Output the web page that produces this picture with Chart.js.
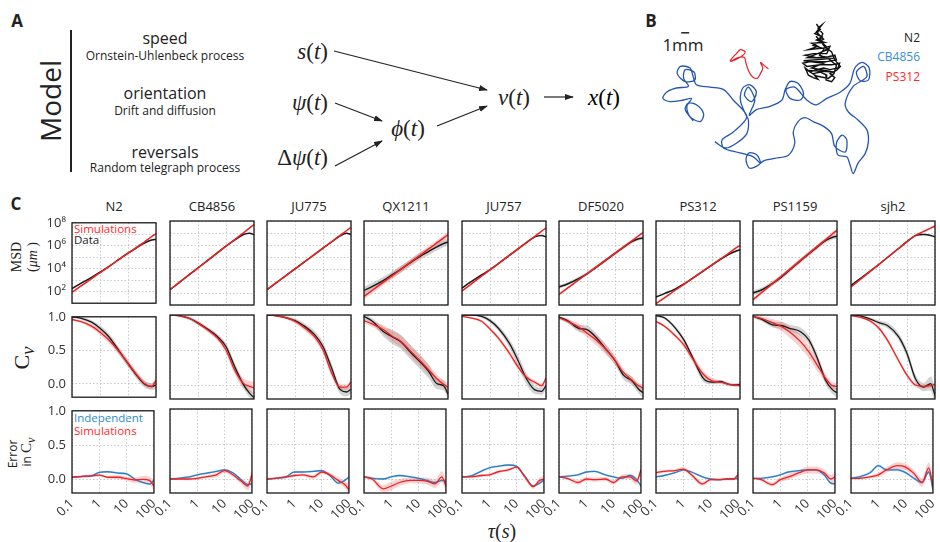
<!DOCTYPE html>
<html>
<head>
<meta charset="utf-8">
<script src="https://cdn.jsdelivr.net/npm/chart.js@4.4.0/dist/chart.umd.min.js"></script>
<style>
body { margin: 0; background: #fff; }
#fig { position: relative; width: 940px; height: 542px; overflow: hidden; font-family: 'Open Sans', sans-serif; color: #222; }
.t { position: absolute; white-space: nowrap; line-height: 1; transform: translate(-50%, -50%); }
.l { transform: translate(0, -50%); }
.rt { transform: translate(-100%, -50%); }
.rot { transform: translate(-50%, -50%) rotate(-90deg); }
.m { font-family: 'Liberation Serif', serif; }
.panel { font-weight: bold; font-size: 17px; }
canvas { position: absolute; }
</style>
</head>
<body>
<div id="fig">
  <!-- A: model diagram -->
  <div class="t panel" style="left:17px;top:20px">A</div>
  <div class="t rot" style="left:50px;top:101px;font-size:28px">Model</div>
  <div style="position:absolute;left:70px;top:30px;width:1.5px;height:142px;background:#222"></div>
  <div class="t" style="left:165px;top:38px;font-size:16px">speed</div>
  <div class="t" style="left:165px;top:56px;font-size:12px">Ornstein-Uhlenbeck process</div>
  <div class="t" style="left:165px;top:93px;font-size:16px">orientation</div>
  <div class="t" style="left:165px;top:111px;font-size:12px">Drift and diffusion</div>
  <div class="t" style="left:165px;top:152px;font-size:16px">reversals</div>
  <div class="t" style="left:165px;top:168px;font-size:12px">Random telegraph process</div>
  <div class="t rt m" style="left:328px;top:51px;font-size:23px"><i>s</i>(<i>t</i>)</div>
  <div class="t rt m" style="left:328px;top:102px;font-size:23px"><i>ψ</i>(<i>t</i>)</div>
  <div class="t rt m" style="left:328px;top:157px;font-size:23px">Δ<i>ψ</i>(<i>t</i>)</div>
  <div class="t m" style="left:408px;top:128px;font-size:23px"><i>ϕ</i>(<i>t</i>)</div>
  <div class="t m" style="left:514px;top:97px;font-size:23px"><i>v</i>(<i>t</i>)</div>
  <div class="t m" style="left:604px;top:97px;font-size:23px;color:#000"><i>x</i>(<i>t</i>)</div>
  <svg style="position:absolute;left:0;top:0" width="940" height="200">
    <defs>
      <marker id="head" markerWidth="9" markerHeight="8" refX="8" refY="4" orient="auto" markerUnits="userSpaceOnUse">
        <path d="M0,1 L9,4 L0,7 z" fill="#222"/>
      </marker>
    </defs>
    <g stroke="#222" stroke-width="1.2" marker-end="url(#head)">
      <line x1="334" y1="51" x2="487" y2="90"/>
      <line x1="335" y1="103" x2="382" y2="121"/>
      <line x1="335" y1="166" x2="382" y2="141"/>
      <line x1="437" y1="126" x2="487" y2="106"/>
      <line x1="544" y1="97" x2="573" y2="97"/>
    </g>
  </svg>

  <!-- B: example tracks -->
  <div class="t panel" style="left:651px;top:20px">B</div>
  <div class="t" style="left:683px;top:44px;font-size:17px">1mm</div>
  <div class="t rt" style="left:920px;top:38px;font-size:12px;color:#222">N2</div>
  <div class="t rt" style="left:920px;top:57px;font-size:12px;color:#3a8fd6">CB4856</div>
  <div class="t rt" style="left:920px;top:77px;font-size:12px;color:#ff2a2a">PS312</div>

  <!-- C: statistics grid -->
  <div class="t panel" style="left:16px;top:203px">C</div>
  <div class="t rot m" style="left:17px;top:257px;font-size:14px">MSD</div>
  <div class="t rot m" style="left:33px;top:257px;font-size:14px">(<i>μm</i>&nbsp;)</div>
  <div class="t rot m" style="left:24px;top:358px;font-size:22px">C<sub><i>v</i></sub></div>
  <div class="t rot" style="left:13px;top:454px;font-size:12px">Error</div>
  <div class="t rot" style="left:28px;top:452px;font-size:12px">in <span class="m" style="font-size:15px">C<sub><i>v</i></sub></span></div>
  <div class="t m" style="left:502px;top:531px;font-size:20px"><i>τ</i>(<i>s</i>)</div>
  <div class="t l" style="left:74px;top:229px;font-size:11.5px;color:#ff2a2a">Simulations</div>
  <div class="t l" style="left:74px;top:240px;font-size:11.5px;color:#222">Data</div>
  <div class="t l" style="left:74px;top:418px;font-size:11.5px;color:#2a8ad4">Independent</div>
  <div class="t l" style="left:74px;top:431px;font-size:11.5px;color:#ff2a2a">Simulations</div>
</div>

<script>
// lag times shared by every curve in panel C
const tau = [0.1, 0.2, 0.5, 1, 2, 5, 10, 20, 40, 70, 100];
const strains = ['N2', 'CB4856', 'JU775', 'QX1211', 'JU757', 'DF5020', 'PS312', 'PS1159', 'sjh2'];

const xTickValues = [0.1, 1, 10, 100];
const xTickLabels = ['0.1', '1', '10', '100'];
const msdTickValues = [1e1, 1e2, 1e3, 1e4, 1e5, 1e6, 1e7, 1e8];
const msdTickLabels = ['', '10²', '', '10⁴', '', '10⁶', '', '10⁸'];
const cvTickValues = [0, 0.5, 1];
const cvTickLabels = ['0.0', '0.5', '1.0'];

// log10 of MSD, one row per strain
const msdData = [
  [2.28, 2.70, 3.25, 3.70, 4.17, 4.85, 5.35, 5.82, 6.25, 6.50, 6.55],
  [2.28, 2.82, 3.55, 4.09, 4.63, 5.36, 5.90, 6.40, 6.85, 6.98, 6.86],
  [2.28, 2.80, 3.49, 4.01, 4.53, 5.22, 5.74, 6.25, 6.75, 6.98, 6.88],
  [2.22, 2.55, 3.05, 3.50, 3.95, 4.60, 5.05, 5.45, 5.85, 6.12, 6.25],
  [2.42, 2.90, 3.50, 3.95, 4.45, 5.15, 5.67, 6.20, 6.68, 6.80, 6.67],
  [2.50, 2.75, 3.20, 3.60, 4.10, 4.78, 5.30, 5.80, 6.28, 6.52, 6.58],
  [1.67, 1.95, 2.35, 2.75, 3.22, 3.85, 4.33, 4.80, 5.22, 5.48, 5.61],
  [2.00, 2.25, 2.80, 3.30, 3.90, 4.70, 5.28, 5.85, 6.38, 6.65, 6.72],
  [2.64, 3.15, 3.85, 4.39, 4.96, 5.71, 6.28, 6.78, 6.88, 6.80, 6.67]
];
const msdSim = [
  [1.95, 2.46, 3.14, 3.65, 4.16, 4.84, 5.35, 5.86, 6.37, 6.80, 7.05],
  [2.28, 2.82, 3.55, 4.09, 4.63, 5.36, 5.90, 6.44, 6.98, 7.43, 7.70],
  [2.28, 2.80, 3.49, 4.01, 4.53, 5.22, 5.74, 6.26, 6.78, 7.21, 7.47],
  [1.72, 2.23, 2.92, 3.43, 3.94, 4.63, 5.14, 5.65, 6.17, 6.59, 6.86],
  [2.17, 2.70, 3.40, 3.92, 4.45, 5.15, 5.67, 6.20, 6.72, 7.16, 7.42],
  [1.89, 2.40, 3.09, 3.60, 4.12, 4.80, 5.31, 5.83, 6.34, 6.77, 7.03],
  [1.11, 1.60, 2.25, 2.73, 3.22, 3.87, 4.35, 4.84, 5.32, 5.73, 5.97],
  [1.44, 2.02, 2.79, 3.37, 3.95, 4.72, 5.30, 5.88, 6.46, 6.94, 7.22],
  [2.50, 3.07, 3.82, 4.39, 4.96, 5.71, 6.28, 6.80, 7.13, 7.40, 7.58]
];
// half width of the shaded bands, log10 units
const msdDataSpread = [0.07, 0.06, 0.06, 0.30, 0.06, 0.15, 0.08, 0.20, 0.05];
const msdSimSpread = [0.05, 0.05, 0.05, 0.25, 0.04, 0.08, 0.06, 0.15, 0.04];

// velocity autocorrelation
const cvData = [
  [1.00, 0.98, 0.92, 0.83, 0.71, 0.48, 0.30, 0.13, -0.01, -0.04, -0.02],
  [1.00, 0.99, 0.95, 0.89, 0.81, 0.69, 0.55, 0.27, 0.02, -0.12, -0.18],
  [1.00, 0.99, 0.96, 0.92, 0.85, 0.72, 0.55, 0.25, -0.06, -0.10, -0.06],
  [0.98, 0.91, 0.76, 0.69, 0.62, 0.45, 0.33, 0.20, 0.02, -0.01, -0.13],
  [1.00, 1.00, 0.98, 0.92, 0.81, 0.59, 0.35, 0.09, -0.07, -0.09, -0.01],
  [0.97, 0.92, 0.81, 0.79, 0.69, 0.50, 0.35, 0.14, 0.06, -0.06, -0.11],
  [0.99, 0.96, 0.81, 0.64, 0.40, 0.09, 0.04, 0.05, 0.01, 0.00, 0.01],
  [0.98, 0.94, 0.86, 0.85, 0.81, 0.76, 0.64, 0.38, 0.06, -0.07, -0.11],
  [1.00, 0.99, 0.94, 0.89, 0.85, 0.69, 0.45, 0.09, -0.03, 0.02, -0.15]
];
const cvSim = [
  [0.96, 0.93, 0.86, 0.77, 0.66, 0.47, 0.31, 0.14, 0.00, -0.04, 0.05],
  [1.00, 0.99, 0.95, 0.88, 0.80, 0.67, 0.50, 0.22, 0.03, -0.02, -0.04],
  [1.00, 0.99, 0.96, 0.91, 0.83, 0.69, 0.50, 0.18, -0.03, -0.03, 0.04],
  [0.92, 0.87, 0.79, 0.70, 0.63, 0.47, 0.35, 0.22, 0.09, 0.01, -0.03],
  [0.98, 0.96, 0.91, 0.80, 0.67, 0.45, 0.26, 0.11, 0.04, -0.01, 0.10],
  [0.96, 0.91, 0.83, 0.74, 0.65, 0.50, 0.35, 0.18, 0.07, -0.01, -0.04],
  [0.91, 0.84, 0.70, 0.57, 0.38, 0.15, 0.06, 0.04, 0.01, 0.00, -0.01],
  [0.98, 0.95, 0.89, 0.84, 0.76, 0.62, 0.47, 0.28, 0.09, -0.01, -0.02],
  [0.99, 0.97, 0.91, 0.81, 0.64, 0.35, 0.14, 0.00, -0.02, -0.01, 0.01]
];
const cvDataSpread = [
  [0.02, 0.02, 0.03, 0.04, 0.05, 0.05, 0.05, 0.05, 0.05, 0.05, 0.06],
  [0.01, 0.01, 0.02, 0.03, 0.03, 0.04, 0.05, 0.06, 0.06, 0.06, 0.06],
  [0.01, 0.01, 0.02, 0.03, 0.04, 0.05, 0.06, 0.06, 0.06, 0.06, 0.06],
  [0.03, 0.04, 0.07, 0.10, 0.10, 0.10, 0.10, 0.10, 0.08, 0.07, 0.08],
  [0.01, 0.01, 0.02, 0.03, 0.04, 0.06, 0.08, 0.08, 0.06, 0.05, 0.05],
  [0.02, 0.03, 0.05, 0.06, 0.06, 0.06, 0.06, 0.06, 0.06, 0.06, 0.07],
  [0.02, 0.02, 0.03, 0.04, 0.05, 0.05, 0.03, 0.02, 0.02, 0.02, 0.03],
  [0.02, 0.03, 0.04, 0.05, 0.05, 0.06, 0.06, 0.06, 0.06, 0.06, 0.07],
  [0.01, 0.01, 0.02, 0.03, 0.04, 0.05, 0.06, 0.06, 0.06, 0.10, 0.12]
];
const cvSimSpread = [
  [0.02, 0.02, 0.03, 0.04, 0.05, 0.05, 0.05, 0.05, 0.04, 0.04, 0.05],
  [0.01, 0.01, 0.02, 0.02, 0.03, 0.04, 0.05, 0.06, 0.07, 0.08, 0.08],
  [0.01, 0.01, 0.02, 0.03, 0.04, 0.05, 0.05, 0.05, 0.04, 0.04, 0.05],
  [0.03, 0.04, 0.06, 0.08, 0.08, 0.08, 0.08, 0.07, 0.06, 0.06, 0.06],
  [0.01, 0.01, 0.02, 0.02, 0.03, 0.04, 0.04, 0.03, 0.03, 0.03, 0.04],
  [0.02, 0.03, 0.05, 0.06, 0.07, 0.07, 0.06, 0.05, 0.05, 0.04, 0.05],
  [0.02, 0.02, 0.03, 0.04, 0.05, 0.05, 0.04, 0.03, 0.02, 0.02, 0.02],
  [0.02, 0.03, 0.05, 0.07, 0.08, 0.09, 0.09, 0.08, 0.06, 0.05, 0.05],
  [0.01, 0.01, 0.02, 0.03, 0.03, 0.03, 0.03, 0.03, 0.03, 0.03, 0.03]
];

// error in Cv for the independent model and the full simulations
const errIndep = [
  [0.03, 0.04, 0.05, 0.10, 0.11, 0.09, 0.08, 0.00, -0.05, -0.07, -0.01],
  [0.00, 0.01, 0.03, 0.06, 0.08, 0.11, 0.13, 0.09, -0.01, -0.08, -0.07],
  [0.00, 0.01, 0.03, 0.10, 0.10, 0.11, 0.12, 0.05, -0.06, -0.02, 0.03],
  [0.03, 0.01, 0.00, 0.03, 0.05, 0.03, 0.01, -0.02, -0.05, -0.02, -0.03],
  [0.03, 0.04, 0.11, 0.16, 0.18, 0.20, 0.18, 0.04, -0.10, -0.06, -0.01],
  [0.03, 0.04, 0.06, 0.10, 0.11, 0.06, 0.03, 0.01, 0.05, -0.01, -0.10],
  [0.03, 0.05, 0.09, 0.13, 0.10, 0.03, 0.00, -0.01, 0.00, 0.00, 0.01],
  [0.01, 0.01, 0.03, 0.06, 0.10, 0.12, 0.13, 0.13, 0.06, -0.06, -0.07],
  [0.01, 0.03, 0.09, 0.19, 0.13, 0.13, 0.09, 0.01, -0.05, 0.10, -0.15]
];
const errSim = [
  [0.03, 0.04, 0.05, 0.06, 0.03, 0.03, 0.01, -0.01, 0.00, -0.02, -0.10],
  [0.00, 0.00, 0.00, 0.01, 0.03, 0.06, 0.12, 0.06, -0.03, -0.10, 0.06],
  [0.00, 0.01, 0.03, 0.05, 0.06, 0.03, 0.10, 0.06, -0.02, -0.08, -0.15],
  [0.03, 0.00, -0.14, -0.10, -0.05, -0.02, -0.02, -0.03, -0.07, 0.03, -0.10],
  [0.03, 0.03, 0.05, 0.06, 0.10, 0.13, 0.17, 0.03, -0.11, -0.02, 0.00],
  [0.03, 0.01, -0.05, 0.00, -0.01, 0.00, -0.05, 0.03, 0.03, -0.03, 0.13],
  [0.09, 0.11, 0.12, 0.14, 0.06, -0.07, -0.01, -0.01, 0.00, 0.00, 0.06],
  [0.01, -0.01, -0.08, -0.01, 0.03, 0.09, 0.13, 0.13, 0.09, 0.00, 0.03],
  [0.01, 0.01, 0.03, 0.06, 0.13, 0.19, 0.17, 0.08, -0.05, 0.16, -0.10]
];
const errIndepSpread = [0.015, 0.015, 0.015, 0.015, 0.015, 0.015, 0.015, 0.015, 0.02];
const errSimSpread = [
  [0.01, 0.015, 0.02, 0.02, 0.02, 0.03, 0.03, 0.04, 0.05, 0.06, 0.07],
  [0.01, 0.015, 0.02, 0.02, 0.02, 0.03, 0.03, 0.03, 0.04, 0.06, 0.10],
  [0.01, 0.015, 0.02, 0.02, 0.02, 0.03, 0.03, 0.03, 0.04, 0.05, 0.08],
  [0.02, 0.03, 0.05, 0.06, 0.05, 0.04, 0.04, 0.05, 0.06, 0.08, 0.08],
  [0.01, 0.015, 0.02, 0.02, 0.02, 0.02, 0.02, 0.03, 0.03, 0.04, 0.05],
  [0.01, 0.02, 0.03, 0.03, 0.03, 0.03, 0.03, 0.03, 0.04, 0.05, 0.06],
  [0.02, 0.02, 0.02, 0.03, 0.03, 0.03, 0.02, 0.02, 0.02, 0.02, 0.04],
  [0.01, 0.02, 0.03, 0.03, 0.04, 0.04, 0.05, 0.05, 0.05, 0.06, 0.07],
  [0.01, 0.015, 0.02, 0.03, 0.04, 0.05, 0.05, 0.05, 0.06, 0.08, 0.10]
];

// worm tracks in mm
const trackCB4856 = [
  [8.1,4.8],[9.4,4.0],[10.8,4.6],[12.1,5.8],[12.3,7.5],[11.9,8.3],[11.3,10.0],[11.6,11.5],[12.5,11.9],[13.3,11.0],
  [12.7,9.8],[11.8,10.6],[12.3,11.6],[13.1,10.0],[12.4,8.1],[13.3,8.8],[15.0,9.2],[16.5,10.0],[16.9,11.3],[17.5,12.3],
  [18.5,12.1],[19.2,10.8],[18.8,10.0],[17.5,10.2],[17.0,11.3],[18.1,11.6],[19.6,10.0],[20.8,9.4],[22.1,10.2],[23.8,11.0],
  [25.0,12.1],[25.6,14.0],[26.5,14.7],[27.4,14.0],[27.3,12.5],[26.3,12.4],[25.8,13.5],[26.7,14.2],[27.1,12.9],[25.4,11.7],
  [24.4,9.6],[24.8,8.5],[26.0,7.5],[27.1,6.3],[27.3,4.8],[26.9,3.3],[26.0,2.1],[25.4,0.8],[25.0,1.9],[24.6,2.9],
  [23.5,3.1],[23.3,4.6],[24.0,5.6],[24.6,5.0],[24.4,3.5],[23.1,4.2],[22.7,5.8],[21.7,6.7],[20.4,7.3],[19.4,7.8],
  [18.5,7.3],[17.9,6.0],[18.1,4.6],[17.3,3.1],[15.6,2.7],[14.2,2.4],[13.3,1.7],[12.4,1.5],[12.0,2.6],[12.4,3.4],
  [13.4,3.1],[13.8,2.1],[12.9,2.9],[10.8,3.5],[9.2,4.0],[9.0,5.0],[10.4,6.0],[12.1,7.9],[10.4,10.0],[9.2,11.3],
  [7.5,11.6],[5.8,11.9],[5.4,12.9],[5.0,14.0],[3.8,14.2],[3.4,13.3],[4.4,12.3],[5.6,12.5],[5.5,13.5],[4.4,13.8],
  [4.2,12.7],[4.8,11.7],[3.3,11.5],[2.1,11.0],[1.6,10.2],[2.5,9.8],[4.2,10.0],[5.2,10.2],[4.6,9.2],[5.0,7.9],
  [6.3,7.3],[6.7,8.3],[5.8,9.4],[4.8,9.6],[4.4,8.8],[5.4,7.4]
];
const trackPS312 = [
  [10.0,14.9],[10.4,15.4],[10.8,15.8],[11.3,16.3],[11.9,16.0],[11.5,15.5],[10.8,15.1],[10.1,14.8],[11.0,15.3],[11.8,15.3],
  [12.0,14.6],[12.3,13.7],[12.8,12.9],[13.4,12.7],[13.8,13.3],[14.1,14.0],[13.8,14.7],[14.4,14.2],[14.8,13.9]
];
const trackN2 = [
  [20.8,19.5],[21.3,18.8],[20.6,18.3],[21.5,17.9],[20.8,17.5],[21.8,17.2],[20.2,17.1],[21.0,16.7],[19.8,16.3],[21.7,16.5],
  [22.5,16.7],[22.1,15.8],[20.4,15.8],[19.4,15.6],[20.8,15.3],[22.3,15.4],[23.1,15.6],[23.3,15.0],[22.1,14.8],[20.0,14.8],
  [19.1,14.6],[19.6,14.2],[21.3,14.4],[22.7,14.4],[23.7,14.6],[23.5,14.0],[22.5,13.8],[21.7,14.0],[20.8,13.8],[20.0,13.5],
  [19.4,14.0],[19.8,13.1],[20.4,12.8],[21.0,12.6],[20.4,13.3],[21.3,13.5],[22.1,13.1],[22.0,12.5],[22.7,12.3],[23.1,12.8],
  [22.5,13.3],[23.3,13.7],[23.8,14.2],[23.1,15.0],[22.7,16.0],[21.7,16.8],[21.3,17.5],[21.6,18.3],[21.0,19.0],[21.5,19.4],
  [20.8,18.5],[21.7,17.6],[20.4,16.8],[22.2,16.3],[19.7,15.3],[22.9,15.2],[19.2,14.9],[21.7,14.6],[20.2,14.0],[22.9,13.5],
  [19.7,13.7],[20.8,13.0],[22.3,12.7],[23.0,13.3],[23.3,14.3],[22.4,15.1],[21.2,15.6],[22.0,16.7],[20.8,17.9],[21.2,19.2]
];
const scaleBar = [[3.9,18.4],[4.9,18.4]];

Chart.defaults.font.family = "'Open Sans', sans-serif";
Chart.defaults.color = '#333';

const RED = '#ee2222';
const BLACK = '#1a1a1a';
const BLUE = '#2a7cc4';
const GRAY_BAND = 'rgba(140,140,140,0.38)';
const RED_BAND = 'rgba(240,90,90,0.28)';
const BLUE_BAND = 'rgba(70,140,215,0.28)';

const fig = document.getElementById('fig');

// ---- panel B ----
function trackSet(track, color, width, tension) {
  return {
    data: track.map(p => ({ x: p[0], y: p[1] })),
    borderColor: color, borderWidth: width, pointRadius: 0,
    showLine: true, tension: tension, fill: false
  };
}
const bCanvas = document.createElement('canvas');
bCanvas.width = 290; bCanvas.height = 160;
bCanvas.style.cssText = 'left:650px;top:20px;width:290px;height:160px';
fig.appendChild(bCanvas);
new Chart(bCanvas, {
  type: 'scatter',
  data: {
    datasets: [
      trackSet(trackCB4856, '#2456b0', 1.3, 0.3),
      trackSet(trackPS312, '#e8222a', 1.2, 0.3),
      trackSet(trackN2, '#111', 1.4, 0),
      trackSet(scaleBar, '#222', 1.5, 0)
    ]
  },
  options: {
    responsive: false, animation: false, devicePixelRatio: 1,
    layout: { padding: 0 },
    plugins: { legend: { display: false }, tooltip: { enabled: false } },
    scales: {
      x: { display: false, min: 0, max: 36.25 },
      y: { display: false, min: 0, max: 20 }
    }
  }
});

// ---- panel C ----
const colLeft = [72, 170, 267, 364, 462, 559, 656, 753, 851];
const rowTop = [221, 315, 409];
const BOX = 84, PAD_L = 46, PAD_T = 12, PAD_R = 12;

// strain names over the columns
strains.forEach((name, c) => {
  const d = document.createElement('div');
  d.className = 't';
  d.style.cssText = `left:${colLeft[c] + 42}px;top:206px;font-size:13px`;
  d.textContent = name;
  fig.appendChild(d);
});

// box around each plot area
const framePlugin = {
  id: 'frame',
  afterDraw(chart) {
    const { ctx, chartArea: a } = chart;
    ctx.save();
    ctx.strokeStyle = '#1a1a1a';
    ctx.lineWidth = 1.3;
    ctx.strokeRect(a.left, a.top, a.right - a.left, a.bottom - a.top);
    ctx.restore();
  }
};

const ident = v => v;
const pow10 = v => Math.pow(10, v);

function pts(vals, toY) {
  return tau.map((t, i) => ({ x: t, y: toY(vals[i]) }));
}
function line(vals, color, toY, width) {
  return {
    data: pts(vals, toY), borderColor: color, borderWidth: width,
    pointRadius: 0, fill: false, cubicInterpolationMode: 'monotone'
  };
}
function band(vals, spread, color, toY) {
  const hi = vals.map((v, i) => v + spread[i]);
  const lo = vals.map((v, i) => v - spread[i]);
  return [
    { data: pts(hi, toY), borderWidth: 0, borderColor: 'transparent', pointRadius: 0,
      fill: '+1', backgroundColor: color, cubicInterpolationMode: 'monotone' },
    { data: pts(lo, toY), borderWidth: 0, borderColor: 'transparent', pointRadius: 0,
      fill: false, cubicInterpolationMode: 'monotone' }
  ];
}
const flat = (v) => tau.map(() => v);

function makeCell(row, col, datasets, yOpts) {
  const padB = row === 2 ? 40 : 12;
  const w = BOX + PAD_L + PAD_R, h = BOX + PAD_T + padB;
  const cv = document.createElement('canvas');
  cv.width = w; cv.height = h;
  cv.style.cssText = `left:${colLeft[col] - PAD_L}px;top:${rowTop[row] - PAD_T}px;width:${w}px;height:${h}px`;
  fig.appendChild(cv);

  const gridOpts = { color: '#bdbdbd', lineWidth: 0.8, drawTicks: false };
  new Chart(cv, {
    type: 'line',
    data: { datasets },
    options: {
      responsive: false, animation: false, devicePixelRatio: 1,
      layout: { padding: { top: PAD_T, right: PAD_R, bottom: 0, left: 0 } },
      plugins: { legend: { display: false }, tooltip: { enabled: false } },
      scales: {
        x: {
          type: 'logarithmic', min: 0.1, max: 100,
          afterBuildTicks: s => { s.ticks = xTickValues.map(v => ({ value: v })); },
          afterFit: s => { s.height = padB; },
          grid: gridOpts,
          border: { display: false, dash: [1.5, 2] },
          ticks: {
            display: row === 2, autoSkip: false, minRotation: 45, maxRotation: 45,
            padding: 3, font: { size: 13 }, color: '#333',
            callback: (v, i) => xTickLabels[i]
          }
        },
        y: Object.assign({
          afterFit: s => { s.width = PAD_L; },
          grid: gridOpts,
          border: { display: false, dash: [1.5, 2] }
        }, yOpts(col === 0))
      }
    },
    plugins: [framePlugin]
  });
}

const msdAxis = (show) => ({
  type: 'logarithmic', min: 1e1, max: 1e8,
  afterBuildTicks: s => { s.ticks = msdTickValues.map(v => ({ value: v })); },
  ticks: { display: show, autoSkip: false, padding: 6, font: { size: 13 }, color: '#333',
           callback: (v, i) => msdTickLabels[i] }
});
const cvAxis = (show) => ({
  type: 'linear', min: -0.2, max: 1.0,
  afterBuildTicks: s => { s.ticks = cvTickValues.map(v => ({ value: v })); },
  ticks: { display: show, autoSkip: false, padding: 6, font: { size: 13 }, color: '#333',
           callback: (v, i) => cvTickLabels[i] }
});

strains.forEach((name, c) => {
  // mean squared displacement
  makeCell(0, c, [
    line(msdSim[c], RED, pow10, 1.5),
    line(msdData[c], BLACK, pow10, 1.5),
    ...band(msdSim[c], flat(msdSimSpread[c]), RED_BAND, pow10),
    ...band(msdData[c], flat(msdDataSpread[c]), GRAY_BAND, pow10)
  ], msdAxis);

  // velocity autocorrelation
  makeCell(1, c, [
    line(cvSim[c], RED, ident, 1.3),
    line(cvData[c], BLACK, ident, 1.3),
    ...band(cvSim[c], cvSimSpread[c], RED_BAND, ident),
    ...band(cvData[c], cvDataSpread[c], GRAY_BAND, ident)
  ], cvAxis);

  // error in Cv
  makeCell(2, c, [
    line(errSim[c], RED, ident, 1.3),
    line(errIndep[c], BLUE, ident, 1.3),
    ...band(errSim[c], errSimSpread[c], RED_BAND, ident),
    ...band(errIndep[c], flat(errIndepSpread[c]), BLUE_BAND, ident)
  ], cvAxis);
});
</script>
</body>
</html>
